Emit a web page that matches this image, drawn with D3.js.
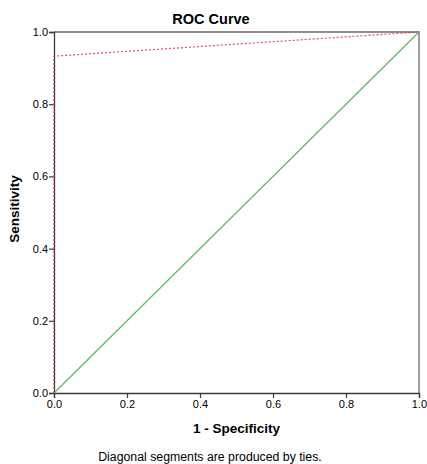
<!DOCTYPE html>
<html>
<head>
<meta charset="utf-8">
<script src="https://cdn.jsdelivr.net/npm/d3@7"></script>
<style>
  body { margin: 0; background: #fff; }
  text { font-family: Arial, "Liberation Sans", sans-serif; fill: #000; }
</style>
</head>
<body>
<div id="chart"></div>
<script>
var margin = {top: 32, right: 8, bottom: 71, left: 54},
    width = 427 - margin.left - margin.right,
    height = 464 - margin.top - margin.bottom;

// ROC curve points (1 - specificity, sensitivity)
var rocFpr = [0, 0, 1];
var rocTpr = [0, 0.933, 1];
// reference line
var refFpr = [0, 1];
var refTpr = [0, 1];

var tickValues = [0, 0.2, 0.4, 0.6, 0.8, 1.0];

var x = d3.scaleLinear().domain([0, 1]).range([0, width]);
var y = d3.scaleLinear().domain([0, 1]).range([height, 0]);

var svg = d3.select("#chart").append("svg")
    .attr("width", 427)
    .attr("height", 464);

var g = svg.append("g")
    .attr("transform", "translate(" + margin.left + "," + margin.top + ")");

// frame (top and right)
g.append("path")
  .attr("d", `M0,0H${width}V${height}`)
  .attr("fill", "none")
  .attr("stroke", "#6b6b6b")
  .attr("stroke-width", 1.3);

var xAxis = g.append("g")
  .attr("transform", `translate(0,${height})`)
  .call(d3.axisBottom(x).tickValues(tickValues).tickFormat(d3.format(".1f")).tickSize(5).tickPadding(2));

var yAxis = g.append("g")
  .call(d3.axisLeft(y).tickValues(tickValues).tickFormat(d3.format(".1f")).tickSize(5).tickPadding(1));

[xAxis, yAxis].forEach(a => {
  a.select(".domain").attr("stroke", "#3a3a3a").attr("stroke-width", 1.3);
  a.selectAll(".tick line").attr("stroke", "#3a3a3a").attr("stroke-width", 1.2);
  a.selectAll(".tick text").style("font-size", "11px").attr("fill", "#222");
});

var line = d3.line().x(d => x(d[0])).y(d => y(d[1]));

g.append("path")
  .datum(d3.zip(refFpr, refTpr))
  .attr("d", line)
  .attr("fill", "none")
  .attr("stroke", "#5cb85c")
  .attr("stroke-width", 1.2);

g.append("path")
  .datum(d3.zip(rocFpr, rocTpr))
  .attr("d", line)
  .attr("fill", "none")
  .attr("stroke", "#e2343c")
  .attr("stroke-width", 1.2)
  .attr("stroke-dasharray", "2,2")
  .attr("stroke-opacity", 0.85);

svg.append("text")
  .attr("x", 211)
  .attr("y", 24)
  .attr("text-anchor", "middle")
  .style("font-size", "14.5px")
  .style("font-weight", "bold")
  .text("ROC Curve");

svg.append("text")
  .attr("x", margin.left + width / 2)
  .attr("y", 433)
  .attr("text-anchor", "middle")
  .style("font-size", "13.5px")
  .style("font-weight", "bold")
  .text("1 - Specificity");

svg.append("text")
  .attr("transform", "translate(19,209) rotate(-90)")
  .attr("text-anchor", "middle")
  .style("font-size", "13.5px")
  .style("font-weight", "bold")
  .text("Sensitivity");

svg.append("text")
  .attr("x", 210)
  .attr("y", 461)
  .attr("text-anchor", "middle")
  .style("font-size", "12.3px")
  .text("Diagonal segments are produced by ties.");
</script>
</body>
</html>
